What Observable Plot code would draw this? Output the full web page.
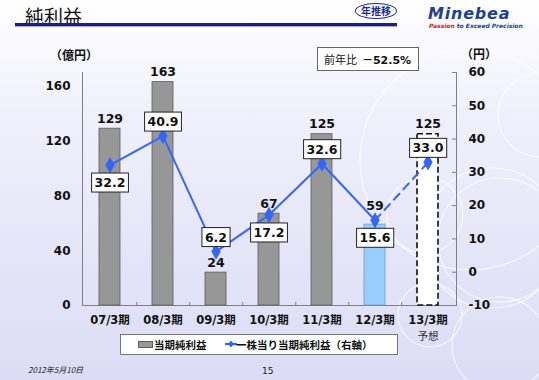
<!DOCTYPE html>
<html>
<head>
<meta charset="utf-8">
<script src="https://cdn.jsdelivr.net/npm/d3@7"></script>
<script src="https://cdn.jsdelivr.net/npm/@observablehq/plot@0.6"></script>
<style>
  html, body { margin: 0; padding: 0; }
  #page {
    position: relative; width: 539px; height: 380px; overflow: hidden;
    background: linear-gradient(to bottom, #ffffff 0%, #f0f0fc 30%, #e4e4f8 70%, #dcdcf6 100%);
    font-family: "DejaVu Sans", "Noto Sans CJK JP", sans-serif;
  }
  .abs { position: absolute; white-space: nowrap; }
  #deco { position: absolute; left: 0; top: 0; }
  #chart { position: absolute; left: 0; top: 0; }
  .cjk { font-family: "Noto Sans CJK JP", sans-serif; }
</style>
</head>
<body>
<div id="page">
  <svg id="deco" width="539" height="380">
    <g fill="none" stroke="#ffffff" stroke-opacity="0.75" stroke-width="1.2">
      <circle cx="500" cy="240" r="62"/>
      <circle cx="492" cy="238" r="70"/>
      <circle cx="540" cy="115" r="42"/>
      <circle cx="425" cy="215" r="38"/>
      <circle cx="500" cy="345" r="48"/>
      <circle cx="430" cy="315" r="32"/>
      <circle cx="470" cy="160" r="110"/>
    </g>
  </svg>

  <div class="abs cjk" style="left:25px; top:2px; font-size:19px; color:#111;">純利益</div>
  <div class="abs" style="left:15px; top:23px; width:382px; height:3px; background:#1c1c8a;"></div>
  <div class="abs" style="left:15px; top:26px; width:382px; height:1px; background:#a9a9d6;"></div>
  <div class="abs cjk" style="left:355px; top:3px; width:40px; height:14px; border:1.5px solid #1c2f8a; border-radius:50%; font-size:10px; line-height:14px; text-align:center; color:#1c2f8a; font-weight:bold;">年推移</div>
  <div class="abs" style="left:428px; top:4px; font-size:16px; font-weight:900; font-style:italic; color:#1f3f94; letter-spacing:0.8px;">Minebea</div>
  <div class="abs" style="left:429px; top:22px; font-size:6px; font-weight:bold; font-style:italic; color:#1f3f94;"><span style="color:#c8201e;">Passion</span> to Exceed Precision</div>

  <div id="chart"></div>

  <div class="abs cjk" style="left:50px; top:46px; font-size:12px; font-weight:bold; color:#111;" id="leftUnit"></div>
  <div class="abs cjk" style="left:461px; top:45px; font-size:12px; font-weight:bold; color:#111;" id="rightUnit"></div>
  <div class="abs cjk" id="yoyBox" style="left:317px; top:47px; width:102px; height:24px; box-sizing:border-box; border:1px solid #666; background:#fff; font-size:11px; line-height:22px; padding-left:6px; color:#111;"></div>

  <div class="abs cjk" id="legend" style="left:120px; top:334px; width:278px; height:21px; box-sizing:border-box; border:1px solid #777; background:#fff; font-size:10.5px; font-weight:bold; line-height:19px; color:#111;"></div>

  <div class="abs cjk" style="left:28px; top:364px; font-size:8px; font-style:italic; color:#222;">2012年5月10日</div>
  <div class="abs" style="left:262px; top:366px; font-size:9px; color:#222;">15</div>
</div>

<script>
// ---------------- data ----------------
const categories = ["07/3期", "08/3期", "09/3期", "10/3期", "11/3期", "12/3期", "13/3期"];
const categoryNotes = ["", "", "", "", "", "", "予想"];
const netIncome = [129, 163, 24, 67, 125, 59, 125];          // 億円 (left axis)
const epsValues = [32.2, 40.9, 6.2, 17.2, 32.6, 15.6, 33.0]; // 円 (right axis)
const leftTicks = [0, 40, 80, 120, 160];
const rightTicks = [-10, 0, 10, 20, 30, 40, 50, 60];
const leftDomain = [0, 170];
const rightDomain = [-10, 60];
const seriesNames = ["当期純利益", "一株当り当期純利益（右軸）"];
const leftUnit = "（億円）";
const rightUnit = "（円）";
const yoyLabel = "前年比";
const yoyValue = "－52.5%";

// label placement for the EPS boxes (relative to the point)
const epsLabelSide = ["below", "above", "above", "below", "above", "below", "above"];

// ---------------- helpers ----------------
const toLeft = v => leftDomain[0] + (v - rightDomain[0]) * (leftDomain[1] - leftDomain[0]) / (rightDomain[1] - rightDomain[0]);
const fromLeft = v => rightDomain[0] + (v - leftDomain[0]) * (rightDomain[1] - rightDomain[0]) / (leftDomain[1] - leftDomain[0]);

const lastIdx = categories.length - 1;
const rows = categories.map((c, i) => ({
  cat: c, note: categoryNotes[i], ni: netIncome[i], eps: epsValues[i], epsL: toLeft(epsValues[i]),
  side: epsLabelSide[i], kind: i === lastIdx ? "forecast" : i === lastIdx - 1 ? "latest" : "actual"
}));

document.getElementById("leftUnit").textContent = leftUnit;
document.getElementById("rightUnit").textContent = rightUnit;
document.getElementById("yoyBox").innerHTML = yoyLabel + "&nbsp;&nbsp;<b style='font-family:\"DejaVu Sans\",\"Noto Sans CJK JP\";'>" + yoyValue + "</b>";

const W = 539, H = 380, mL = 82, mR = 83, mT = 72, mB = 75;
const step = (W - mL - mR) / categories.length;
const font = "'DejaVu Sans', 'Noto Sans CJK JP', sans-serif";
const BLUE = "#3366ff";

const chart = Plot.plot({
  width: W, height: H,
  marginLeft: mL, marginRight: mR, marginTop: mT, marginBottom: mB,
  style: { background: "transparent", fontFamily: font, overflow: "visible", color: "#111" },
  x: { domain: categories, paddingInner: 0.6, paddingOuter: 0.3, axis: null },
  y: { domain: leftDomain, axis: null },
  marks: [
    // axis lines
    Plot.frame({ anchor: "left", stroke: "#808080" }),
    Plot.frame({ anchor: "right", stroke: "#808080" }),
    Plot.ruleY([leftDomain[0]], { stroke: "#808080" }),
    // small category separators on the baseline
    Plot.ruleX(categories.slice(0, -1), { x: d => d, y1: 0, y2: 2.2, dx: step / 2, stroke: "#808080" }),
    // right axis inward ticks
    Plot.ruleY(rightTicks, { y: d => toLeft(d), insetLeft: (W - mL - mR) - 4, stroke: "#808080" }),

    // axes
    Plot.axisY(leftTicks, { anchor: "left", tickSize: 0, tickPadding: 12, label: null, fontSize: 12, fontWeight: "bold" }),
    Plot.axisY(rightTicks.map(toLeft), { anchor: "right", tickSize: 0, tickPadding: 12, label: null,
      tickFormat: d => String(Math.round(fromLeft(d))), fontSize: 12, fontWeight: "bold" }),
    Plot.axisX({ anchor: "bottom", tickSize: 0, tickPadding: 10, label: null, fontSize: 11.5, fontWeight: "bold" }),
    Plot.text(rows, { x: "cat", text: "note", frameAnchor: "bottom", dy: 34, fontSize: 10.5, fill: "#333" }),

    // bars
    Plot.barY(rows.filter(d => d.kind === "actual"), { x: "cat", y: "ni", fill: "#979797", stroke: "#5e5e5e", strokeWidth: 0.8 }),
    Plot.barY(rows.filter(d => d.kind === "latest"), { x: "cat", y: "ni", fill: "#99ccff", stroke: "#6f9fd0", strokeWidth: 0.8 }),
    Plot.barY(rows.filter(d => d.kind === "forecast"), { x: "cat", y: "ni", fill: "#ffffff", stroke: "#111", strokeWidth: 1.6, strokeDasharray: "6,3" }),

    // bar value labels
    Plot.text(rows.filter(d => d.kind !== "latest"), { x: "cat", y: "ni", text: d => String(d.ni), dy: -10, fontSize: 12.5, fontWeight: "bold", fill: "#111" }),
    Plot.text(rows.filter(d => d.kind === "latest"), { x: "cat", y: "ni", text: d => String(d.ni), dy: -19, fontSize: 12.5, fontWeight: "bold", fill: "#111" }),

    // EPS line
    Plot.line(rows.filter(d => d.kind !== "forecast"), { x: "cat", y: "epsL", stroke: BLUE, strokeWidth: 2 }),
    Plot.line(rows.filter(d => d.kind !== "actual"), { x: "cat", y: "epsL", stroke: BLUE, strokeWidth: 2, strokeDasharray: "8,6" }),
    Plot.dot(rows, { x: "cat", y: "epsL", symbol: "diamond", r: 4, fill: BLUE, stroke: BLUE }),

    // EPS labels
    Plot.text(rows.filter(d => d.side === "above"), { x: "cat", y: "epsL", text: d => d.eps.toFixed(1), dy: -14, fontSize: 12.5, fontWeight: "bold", fill: "#111", className: "epsbox" }),
    Plot.text(rows.filter(d => d.side === "below"), { x: "cat", y: "epsL", text: d => d.eps.toFixed(1), dy: 18, fontSize: 12.5, fontWeight: "bold", fill: "#111", className: "epsbox" })
  ]
});

document.getElementById("chart").appendChild(chart);

// draw boxes behind EPS labels, using the positions Plot gave the text
chart.querySelectorAll("g.epsbox text").forEach(t => {
  const b = t.getBBox();
  const tr = t.getAttribute("transform");
  const r = document.createElementNS("http://www.w3.org/2000/svg", "rect");
  const padX = 3, h = 19;
  const cy = b.y + b.height / 2;
  r.setAttribute("x", b.x - padX);
  r.setAttribute("y", cy - h / 2);
  r.setAttribute("width", b.width + 2 * padX);
  r.setAttribute("height", h);
  r.setAttribute("fill", "#fff");
  r.setAttribute("stroke", "#222");
  r.setAttribute("stroke-width", "1");
  if (tr) r.setAttribute("transform", tr);
  t.parentNode.insertBefore(r, t);
});

// legend
const lg = document.getElementById("legend");
lg.innerHTML =
  `<span style="position:absolute; left:17px; top:6px; width:13px; height:5px; background:#979797; border:1px solid #5e5e5e;"></span>` +
  `<span style="position:absolute; left:33px; top:0px;">${seriesNames[0]}</span>` +
  `<svg style="position:absolute; left:104px; top:4px;" width="12" height="10"><line x1="0" y1="5" x2="12" y2="5" stroke="${BLUE}" stroke-width="2"/><path d="M6,1.5L9,5L6,8.5L3,5Z" fill="${BLUE}"/></svg>` +
  `<span style="position:absolute; left:115px; top:0px;">${seriesNames[1]}</span>`;
</script>
</body>
</html>
